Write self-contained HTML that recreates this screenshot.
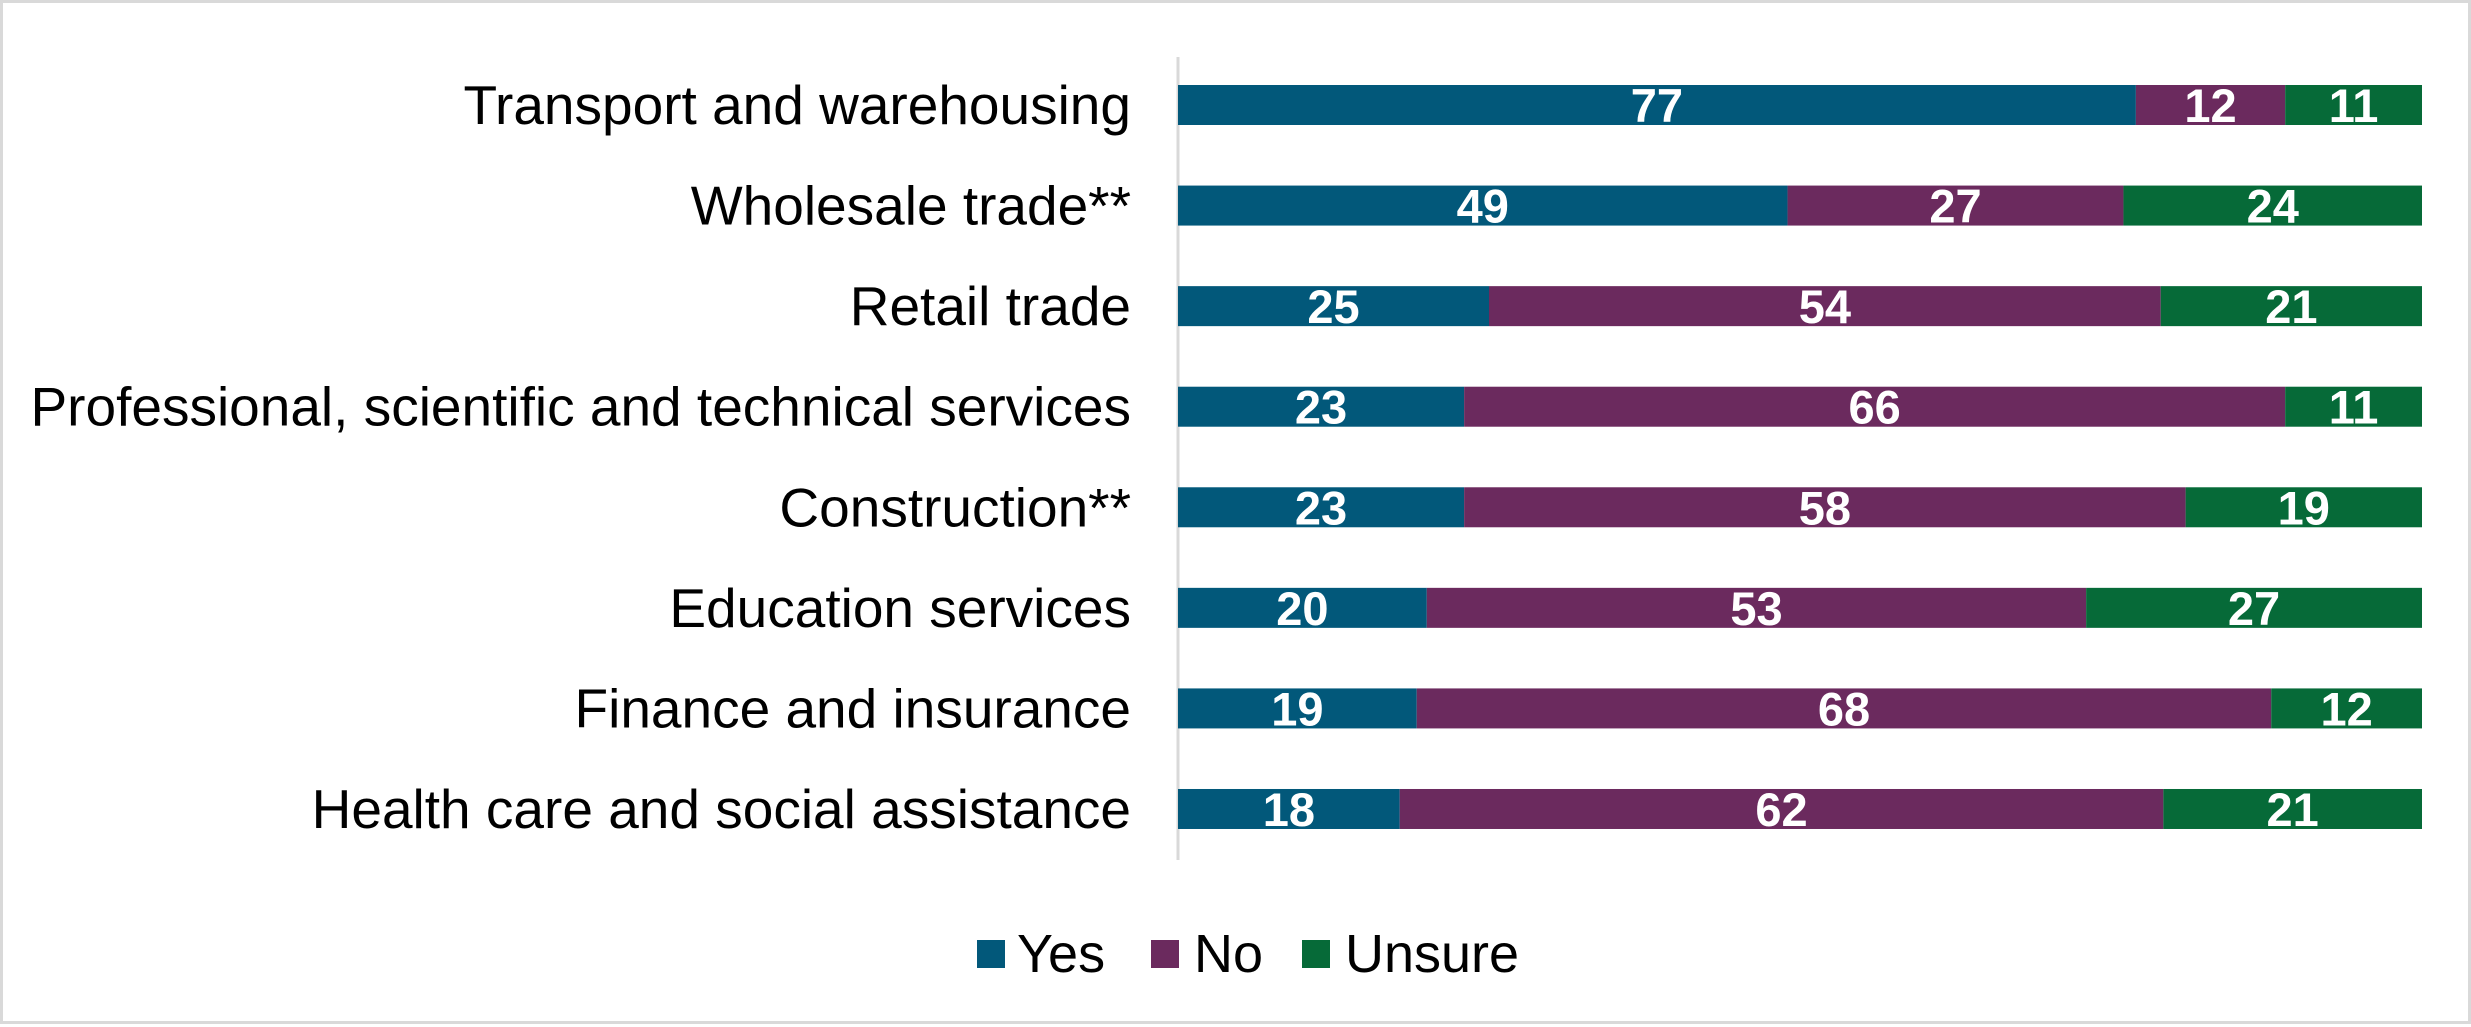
<!DOCTYPE html>
<html><head><meta charset="utf-8">
<style>
html,body{margin:0;padding:0;background:#fff}
#wrap{position:relative;width:2471px;height:1024px;box-sizing:border-box;border:3px solid #d9d9d9;background:#fff;font-family:"Liberation Sans",Arial,sans-serif}
svg{position:absolute;left:0;top:0}
</style></head><body>
<div id="wrap">
<svg id="chart" width="2471" height="1024"></svg>
</div>
<script>
const categories=["Transport and warehousing","Wholesale trade**","Retail trade","Professional, scientific and technical services","Construction**","Education services","Finance and insurance","Health care and social assistance"];
const yesValues=[77,49,25,23,23,20,19,18];
const noValues=[12,27,54,66,58,53,68,62];
const unsureValues=[11,24,21,11,19,27,12,21];
const seriesNames=["Yes","No","Unsure"];
const colors=["#02587A","#6B2A5E","#066A38"];

const NS="http://www.w3.org/2000/svg";
const svg=document.getElementById('chart');
const x0=1175,x1=2419,top0=82,pitch=100.57,barH=40;
function xScale(v,total){return (v/total)*(x1-x0);}
function yScale(i){return top0+i*pitch;}
function mk(tag,attrs){const e=document.createElementNS(NS,tag);for(const k in attrs)e.setAttribute(k,attrs[k]);svg.appendChild(e);return e;}

const axis=mk('line',{x1:x0,x2:x0,y1:54,y2:857,stroke:'#d9d9d9','stroke-width':3});



const series=[yesValues,noValues,unsureValues];
categories.forEach((c,i)=>{
  const y=yScale(i);
  const lab=mk('text',{x:1128,y:y+barH/2+19,'text-anchor':'end','font-size':55,fill:'#000'});
  lab.textContent=c;
  
  
  const total=yesValues[i]+noValues[i]+unsureValues[i];
  let cx=x0;
  series.forEach((arr,s)=>{
    const w=xScale(arr[i],total);
    const r=mk('rect',{x:cx,y:y,width:w,height:barH,fill:colors[s]});
    
    
    const t=mk('text',{x:cx+w/2,y:y+barH/2+17,'text-anchor':'middle','font-size':47,'font-weight':'bold',fill:'#fff'});
    t.textContent=arr[i];
    
    
    cx+=w;
  });
});

const legX=[974,1148,1299];
const legTX=[1014,1191,1342];
seriesNames.forEach((n,s)=>{
  const r=mk('rect',{x:legX[s],y:937,width:28,height:28,fill:colors[s]});
  
  
  const t=mk('text',{x:legTX[s],y:969,'font-size':54,fill:'#000'});
  t.textContent=n;
  
  
});
</script>
</body></html>
